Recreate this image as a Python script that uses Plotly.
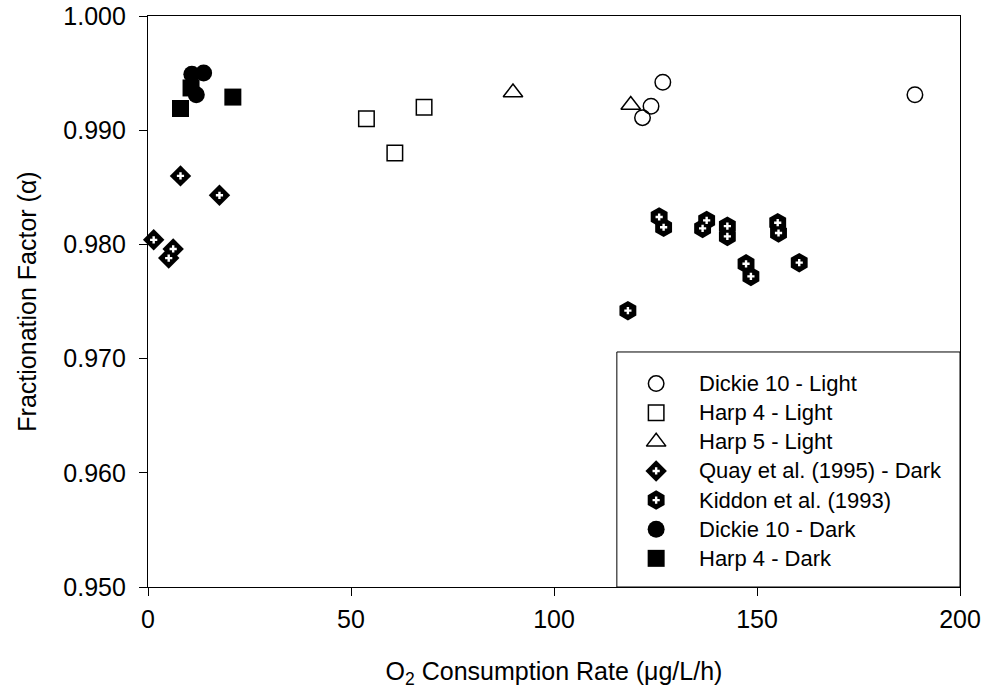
import plotly.graph_objects as go

# Oxygen isotope fractionation factor vs. O2 consumption rate
dickie_light_x = [121.8, 123.9, 126.8, 188.9]
dickie_light_y = [0.9911, 0.9921, 0.9942, 0.9931]

harp4_light_x = [53.8, 60.8, 68.0]
harp4_light_y = [0.9910, 0.9880, 0.9920]

harp5_light_x = [89.9, 118.9]
harp5_light_y = [0.9933, 0.9922]

quay_x = [1.4, 5.1, 6.2, 8.0, 17.6]
quay_y = [0.9804, 0.9788, 0.9796, 0.9860, 0.9843]

kiddon_x = [118.2, 125.9, 127.0, 136.6, 137.6, 142.7, 142.7, 147.3, 148.5, 155.1, 155.3, 160.4]
kiddon_y = [0.9742, 0.9824, 0.9815, 0.9814, 0.9821, 0.9816, 0.9807, 0.9783, 0.9772, 0.9819, 0.9810, 0.9784]

dickie_dark_x = [10.8, 13.7, 11.9]
dickie_dark_y = [0.9949, 0.9950, 0.9931]

harp4_dark_x = [8.0, 10.6, 20.9]
harp4_dark_y = [0.9919, 0.9937, 0.9929]

x_ticks = [0, 50, 100, 150, 200]
y_ticks = [0.950, 0.960, 0.970, 0.980, 0.990, 1.000]

legend_names = [
    "Dickie 10 - Light",
    "Harp 4 - Light",
    "Harp 5 - Light",
    "Quay et al. (1995) - Dark",
    "Kiddon et al. (1993)",
    "Dickie 10 - Dark",
    "Harp 4 - Dark",
]

FONT = "Arial, 'Liberation Sans', sans-serif"
LINE = dict(color="black", width=1.5)

# marker styles, one per series (legend order)
styles = [
    dict(symbol="circle-open", size=15.5, color="black", line=LINE),
    dict(symbol="square-open", size=15.5, color="black", line=LINE),
    dict(symbol="triangle-up-open", size=17, color="black", line=LINE),
    dict(symbol="diamond", size=16.5, color="black", line=dict(width=0)),
    dict(symbol="hexagon", size=19.5, color="black", line=dict(width=0)),
    dict(symbol="circle", size=17, color="black", line=dict(width=0)),
    dict(symbol="square", size=17, color="black", line=dict(width=0)),
]
# small white plus drawn inside the Quay and Kiddon symbols
inner = dict(symbol="cross", size=6, color="white", line=dict(width=0))
has_inner = [False, False, False, True, True, False, False]

series = [
    (dickie_light_x, dickie_light_y),
    (harp4_light_x, harp4_light_y),
    (harp5_light_x, harp5_light_y),
    (quay_x, quay_y),
    (kiddon_x, kiddon_y),
    (dickie_dark_x, dickie_dark_y),
    (harp4_dark_x, harp4_dark_y),
]

fig = go.Figure()
for (xs, ys), st, inn, name in zip(series, styles, has_inner, legend_names):
    fig.add_trace(go.Scatter(x=xs, y=ys, mode="markers", marker=st,
                             name=name, showlegend=False, cliponaxis=False))
    if inn:
        fig.add_trace(go.Scatter(x=xs, y=ys, mode="markers", marker=inner,
                                 showlegend=False, hoverinfo="skip", cliponaxis=False))

# legend panel drawn on an overlay axis spanning the plot area (0..1)
leg_top = 0.3562
leg_step = 0.0510
leg_mx = 0.6258
leg_tx = 0.676
for i, (st, inn, name) in enumerate(zip(styles, has_inner, legend_names)):
    yy = leg_top - i * leg_step
    fig.add_trace(go.Scatter(x=[leg_mx], y=[yy], mode="markers", marker=st,
                             xaxis="x2", yaxis="y2", showlegend=False, hoverinfo="skip"))
    if inn:
        fig.add_trace(go.Scatter(x=[leg_mx], y=[yy], mode="markers", marker=inner,
                                 xaxis="x2", yaxis="y2", showlegend=False, hoverinfo="skip"))
    fig.add_annotation(x=leg_tx, y=yy, xref="x2", yref="y2", text=name,
                       showarrow=False, xanchor="left", yanchor="middle",
                       font=dict(family=FONT, size=22, color="black"))

fig.add_shape(type="rect", xref="paper", yref="paper", x0=0.5774, x1=1.0,
              y0=0.0, y1=0.4116, line=dict(color="black", width=1), fillcolor="rgba(0,0,0,0)")

axis_common = dict(
    showline=True, linecolor="black", linewidth=1.3, mirror=True,
    ticks="outside", ticklen=8, tickwidth=1.3, tickcolor="black",
    showgrid=False, zeroline=False, automargin=False,
    tickfont=dict(family=FONT, size=25, color="black"),
)

fig.update_layout(
    width=987, height=694,
    margin=dict(l=148, r=27, t=16, b=107),
    paper_bgcolor="white", plot_bgcolor="white",
    showlegend=False,
    xaxis=dict(range=[0, 200], tickvals=x_ticks, ticktext=[str(v) for v in x_ticks],
               ticklabelstandoff=2,
               title=dict(text="O<sub>2</sub> Consumption Rate (μg/L/h)",
                          font=dict(family=FONT, size=25, color="black"), standoff=30),
               **axis_common),
    yaxis=dict(range=[0.950, 1.000], tickvals=y_ticks,
               ticktext=[f"{v:.3f}" for v in y_ticks], ticklabelstandoff=8,
               title=dict(text="Fractionation Factor (α)",
                          font=dict(family=FONT, size=25, color="black"), standoff=19),
               **axis_common),
    xaxis2=dict(range=[0, 1], overlaying="x", visible=False, fixedrange=True),
    yaxis2=dict(range=[0, 1], overlaying="y", visible=False, fixedrange=True),
)

fig.write_html("out.html")
